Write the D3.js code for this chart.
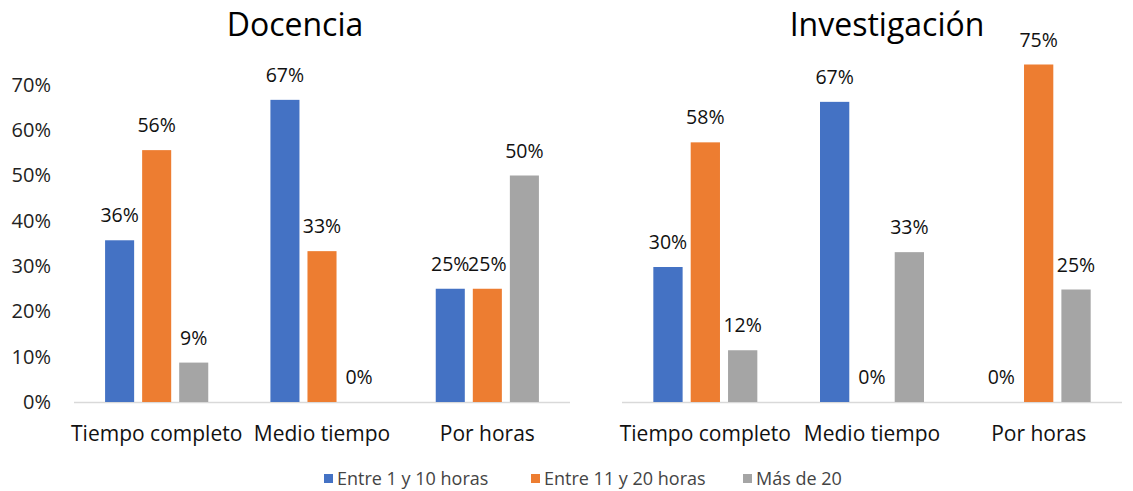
<!DOCTYPE html>
<html><head><meta charset="utf-8">
<script src="https://cdn.jsdelivr.net/npm/d3@7"></script>
<style>body{margin:0;background:#fff;}svg{display:block;}</style>
</head><body>
<svg id="c" width="1133" height="491"></svg>
<script>
const categories = ["Tiempo completo", "Medio tiempo", "Por horas"];
const seriesNames = ["Entre 1 y 10 horas", "Entre 11 y 20 horas", "Más de 20"];
const colors = ["#4472c4", "#ed7d31", "#a5a5a5"];
const titles = ["Docencia", "Investigación"];
// Docencia
const docBlue = [0.357, 0.667, 0.25];
const docOrange = [0.556, 0.333, 0.25];
const docGray = [0.087, 0, 0.5];
// Investigación
const invBlue = [0.30, 0.667, 0];
const invOrange = [0.577, 0, 0.75];
const invGray = [0.115, 0.333, 0.25];
const yTicks = [0, 0.1, 0.2, 0.3, 0.4, 0.5, 0.6, 0.7];

const FONT = "'Open Sans', sans-serif";
const svg = d3.select("#c");

const panels = [
  {title: titles[0], data: [docBlue, docOrange, docGray], x0: 74, x1: 570, ypx: 453, axis: true, tx: 295},
  {title: titles[1], data: [invBlue, invOrange, invGray], x0: 622, x1: 1122, ypx: 450, axis: false, tx: 887}
];
const base = 402;

panels.forEach(p => {
  const g = svg.append("g");
  const x = d3.scaleBand().domain(categories).range([p.x0, p.x1]).paddingInner(0.376).paddingOuter(0.188);
  const xs = d3.scaleBand().domain(seriesNames).range([0, x.bandwidth()]).paddingInner(0.216).paddingOuter(0);
  const y = d3.scaleLinear().domain([0, 1]).range([base, base - p.ypx]);

  g.append("text").attr("x", p.tx).attr("y", 36).attr("text-anchor", "middle")
    .attr("font-family", FONT).attr("font-size", 32).attr("fill", "#000").text(p.title);

  if (p.axis) {
    const ya = d3.axisLeft(y).tickValues(yTicks).tickSize(0).tickPadding(0).tickFormat(d3.format(".0%"));
    const ag = g.append("g").attr("transform", "translate(51,0)").call(ya);
    ag.select(".domain").remove();
    ag.selectAll("text").attr("font-family", FONT).attr("font-size", 20).attr("fill", "#222");
  }

  g.append("line").attr("x1", p.x0).attr("x2", p.x1).attr("y1", base + 0.5).attr("y2", base + 0.5)
    .attr("stroke", "#d9d9d9").attr("stroke-width", 1.5);

  const xa = d3.axisBottom(x).tickSize(0).tickPadding(0);
  const xg = g.append("g").attr("transform", `translate(0,${base + 24})`).call(xa);
  xg.select(".domain").remove();
  xg.selectAll("text").attr("font-family", FONT).attr("font-size", 21).attr("fill", "#111");

  seriesNames.forEach((s, si) => {
    const vals = p.data[si];
    const sg = g.append("g");
    sg.selectAll("rect").data(vals).join("rect")
      .attr("x", (d, i) => x(categories[i]) + xs(s))
      .attr("y", d => y(d))
      .attr("width", xs.bandwidth())
      .attr("height", d => base - y(d))
      .attr("fill", colors[si]);
    sg.selectAll("text").data(vals).join("text")
      .attr("x", (d, i) => x(categories[i]) + xs(s) + xs.bandwidth() / 2)
      .attr("y", d => y(d) - 18)
      .attr("text-anchor", "middle")
      .attr("font-family", FONT).attr("font-size", 19.5).attr("fill", "#111")
      .text(d => d3.format(".0%")(d));
  });
});

// Legend
const legendX = [324, 531, 743];
const lg = svg.append("g");
seriesNames.forEach((s, i) => {
  lg.append("rect").attr("x", legendX[i]).attr("y", 474).attr("width", 9).attr("height", 9).attr("fill", colors[i]);
  lg.append("text").attr("x", legendX[i] + 13).attr("y", 485).attr("font-family", FONT)
    .attr("font-size", 18).attr("fill", "#444").text(s);
});
</script>
</body></html>
